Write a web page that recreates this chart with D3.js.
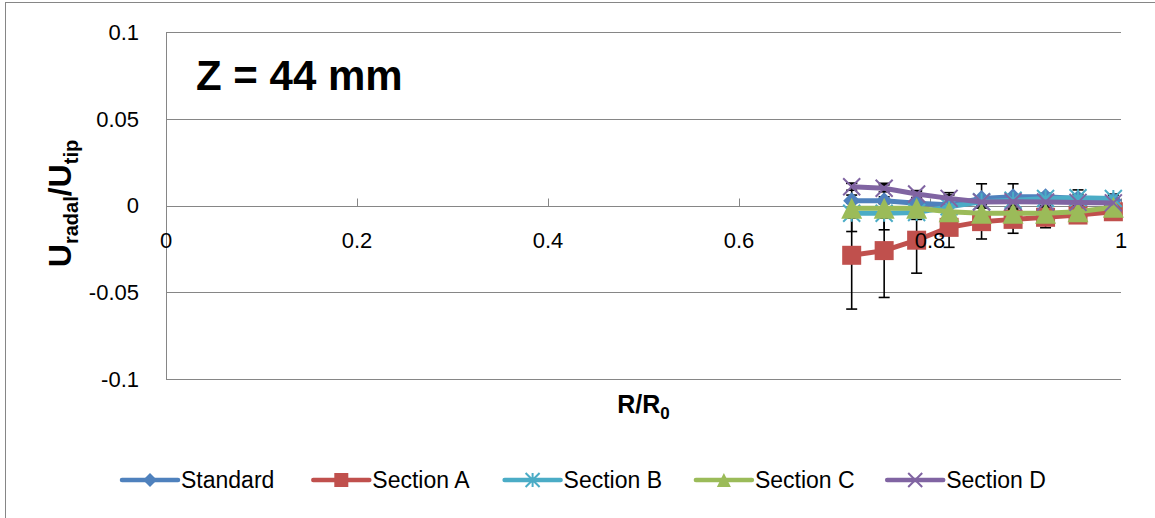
<!DOCTYPE html>
<meta charset="utf-8">
<style>
	body { margin: 0; background: #fff; font-family: "Liberation Sans", Arial, sans-serif; }
	.grid line { stroke: #868686; stroke-width: 1; }
	text { fill: #000; }
</style>
<body>
<svg id="chart" width="1155" height="518"></svg>
<script src="https://cdnjs.cloudflare.com/ajax/libs/d3/7.8.5/d3.min.js"></script>
<script>
	// R/R0 positions of the measurement stations
	var radius = [0.718, 0.752, 0.786, 0.820, 0.854, 0.887, 0.921, 0.955, 0.992];

	var standard = [0.0028, 0.0028, 0.0013, 0.0004, 0.0040, 0.0050, 0.0050, 0.0040, 0.0030];
	var sectionA = [-0.0287, -0.0260, -0.0200, -0.0126, -0.0093, -0.0080, -0.0068, -0.0055, -0.0036];
	var sectionB = [-0.0045, -0.0045, -0.0040, -0.0007, 0.0022, 0.0030, 0.0040, 0.0045, 0.0040];
	var sectionC = [-0.0016, -0.0016, -0.0016, -0.0036, -0.0045, -0.0045, -0.0045, -0.0036, -0.0010];
	var sectionD = [0.0108, 0.0099, 0.0066, 0.0041, 0.0020, 0.0022, 0.0020, 0.0018, 0.0015];

	// error bar half widths
	var errStandard = [0.010, 0.010, 0.007, 0.007, 0.0085, 0.0075, 0.002, 0.005, 0.0036];
	var errA = [0.031, 0.027, 0.019, 0.0115, 0.010, 0.008, 0.006, 0.003, 0.002];
	var errB = [0.0105, 0.0095, 0.004, 0.003, 0.003, 0.003, 0.002, 0.002, 0.002];
	var errC = [0.003, 0.003, 0.003, 0.003, 0.003, 0.003, 0.003, 0.002, 0.002];
	var errD = [0.002, 0.002, 0.002, 0.002, 0.002, 0.002, 0.002, 0.002, 0.002];

	var seriesNames = ["Standard", "Section A", "Section B", "Section C", "Section D"];
	var seriesColors = ["#4F81BD", "#C0504D", "#4BACC6", "#9BBB59", "#8064A2"];
	var seriesMarkers = ["diamond", "square", "asterisk", "triangle", "cross"];

	var xTicks = [0, 0.2, 0.4, 0.6, 0.8, 1];
	var yTicks = [0.1, 0.05, 0, -0.05, -0.1];

	var values = [standard, sectionA, sectionB, sectionC, sectionD];
	var errors = [errStandard, errA, errB, errC, errD];

	var series = seriesNames.map(function(name, i) {
		return {
			name: name,
			color: seriesColors[i],
			marker: seriesMarkers[i],
			points: radius.map(function(r, j) { return {r: r, v: values[i][j], e: errors[i][j]}; })
		};
	});

	var svg = d3.select("#chart");
	var plot = {left: 166, right: 1121, top: 32, bottom: 379};

	var x = d3.scaleLinear().domain([0, 1]).range([plot.left, plot.right]);
	var y = d3.scaleLinear().domain([-0.1, 0.1]).range([plot.bottom, plot.top]);

	// outer chart border
	svg.append("rect")
		.attr("x", 5.5).attr("y", 2.5)
		.attr("width", 1170).attr("height", 540)
		.attr("fill", "none").attr("stroke", "#868686");

	// horizontal gridlines
	svg.append("g").attr("class", "grid")
		.selectAll("line").data(yTicks).enter().append("line")
		.attr("x1", plot.left).attr("x2", plot.right)
		.attr("y1", function(d) { return Math.round(y(d)) + 0.5; })
		.attr("y2", function(d) { return Math.round(y(d)) + 0.5; });

	// y axis line
	svg.append("line")
		.attr("x1", plot.left + 0.5).attr("x2", plot.left + 0.5)
		.attr("y1", plot.top).attr("y2", plot.bottom)
		.attr("stroke", "#868686");

	// y tick labels
	svg.append("g").selectAll("text").data(yTicks).enter().append("text")
		.attr("x", 139).attr("y", function(d) { return y(d); })
		.attr("dy", "0.36em")
		.attr("text-anchor", "end")
		.style("font-size", "22px")
		.text(function(d) { return d; });

	// x axis crosses at zero, ticks point up
	var y0 = Math.round(y(0)) + 0.5;
	svg.append("g").selectAll("line").data(xTicks).enter().append("line")
		.attr("x1", function(d) { return Math.round(x(d)) + 0.5; })
		.attr("x2", function(d) { return Math.round(x(d)) + 0.5; })
		.attr("y1", y0 - 8).attr("y2", y0)
		.attr("stroke", "#868686");

	// error bars (below the series)
	var eb = svg.append("g").attr("stroke", "#000").attr("stroke-width", 1.6);
	series.forEach(function(s) {
		s.points.forEach(function(p) {
			var cx = x(p.r), ya = y(p.v + p.e), yb = y(p.v - p.e);
			eb.append("line").attr("x1", cx).attr("x2", cx).attr("y1", ya).attr("y2", yb);
			eb.append("line").attr("x1", cx - 5.5).attr("x2", cx + 5.5).attr("y1", ya).attr("y2", ya);
			eb.append("line").attr("x1", cx - 5.5).attr("x2", cx + 5.5).attr("y1", yb).attr("y2", yb);
		});
	});

	function drawMarker(g, type, cx, cy, color, sz) {
		var h = sz / 2;
		if (type == "diamond") {
			g.append("path")
				.attr("d", "M" + cx + "," + (cy - h) + "L" + (cx + h) + "," + cy + "L" + cx + "," + (cy + h) + "L" + (cx - h) + "," + cy + "Z")
				.attr("fill", color);
		} else if (type == "square") {
			g.append("rect").attr("x", cx - h).attr("y", cy - h)
				.attr("width", sz).attr("height", sz).attr("fill", color);
		} else if (type == "triangle") {
			g.append("path")
				.attr("d", "M" + cx + "," + (cy - h) + "L" + (cx + h) + "," + (cy + h) + "L" + (cx - h) + "," + (cy + h) + "Z")
				.attr("fill", color);
		} else if (type == "cross") {
			g.append("path")
				.attr("d", "M" + (cx - h) + "," + (cy - h) + "L" + (cx + h) + "," + (cy + h) + "M" + (cx + h) + "," + (cy - h) + "L" + (cx - h) + "," + (cy + h))
				.attr("stroke", color).attr("stroke-width", 2);
		} else if (type == "asterisk") {
			g.append("path")
				.attr("d", "M" + (cx - h) + "," + (cy - h) + "L" + (cx + h) + "," + (cy + h) + "M" + (cx + h) + "," + (cy - h) + "L" + (cx - h) + "," + (cy + h) +
					"M" + cx + "," + (cy - h) + "L" + cx + "," + (cy + h))
				.attr("stroke", color).attr("stroke-width", 2);
		}
	}

	var markerSize = {diamond: 17, square: 19, asterisk: 17, triangle: 21, cross: 17};

	var line = d3.line()
		.x(function(d) { return x(d.r); })
		.y(function(d) { return y(d.v); });

	series.forEach(function(s) {
		var g = svg.append("g");
		g.append("path")
			.datum(s.points)
			.attr("d", line)
			.attr("fill", "none")
			.attr("stroke", s.color)
			.attr("stroke-width", 5)
			.attr("stroke-linejoin", "round");
		s.points.forEach(function(p) {
			drawMarker(g, s.marker, x(p.r), y(p.v), s.color, markerSize[s.marker]);
		});
	});

	// x tick labels sit on top of the series
	svg.append("g").selectAll("text").data(xTicks).enter().append("text")
		.attr("x", function(d) { return x(d); })
		.attr("y", 248)
		.attr("text-anchor", "middle")
		.style("font-size", "22px")
		.text(function(d) { return d; });

	// title inside the plot
	svg.append("text")
		.attr("x", 196).attr("y", 90)
		.style("font-size", "42px").style("font-weight", "bold")
		.text("Z = 44 mm");

	// y axis title
	var yt = svg.append("text")
		.attr("transform", "translate(71," + (y(0) - 2) + ") rotate(-90)")
		.attr("text-anchor", "middle")
		.style("font-size", "32px").style("font-weight", "bold");
	yt.append("tspan").text("U");
	yt.append("tspan").attr("dy", 7).style("font-size", "20px").text("radal");
	yt.append("tspan").attr("dy", -7).text("/U");
	yt.append("tspan").attr("dy", 7).style("font-size", "20px").text("tip");

	// x axis title
	var xt = svg.append("text")
		.attr("x", (plot.left + plot.right) / 2).attr("y", 413)
		.attr("text-anchor", "middle")
		.style("font-size", "25px").style("font-weight", "bold");
	xt.append("tspan").text("R/R");
	xt.append("tspan").attr("dy", 6).style("font-size", "17px").text("0");

	// legend
	var legend = svg.append("g").selectAll("g").data(series).enter().append("g")
		.attr("transform", function(d, i) { return "translate(" + (122 + i * 191.3) + ",480)"; });

	legend.append("line")
		.attr("x1", 0).attr("x2", 56).attr("y1", 0).attr("y2", 0)
		.attr("stroke", function(d) { return d.color; })
		.attr("stroke-width", 4.5)
		.attr("stroke-linecap", "round");

	legend.each(function(d) {
		drawMarker(d3.select(this), d.marker, 28, 0, d.color, 14);
	});

	legend.append("text")
		.attr("x", 59).attr("y", 8)
		.style("font-size", "23px")
		.text(function(d) { return d.name; });
</script>
</body>
